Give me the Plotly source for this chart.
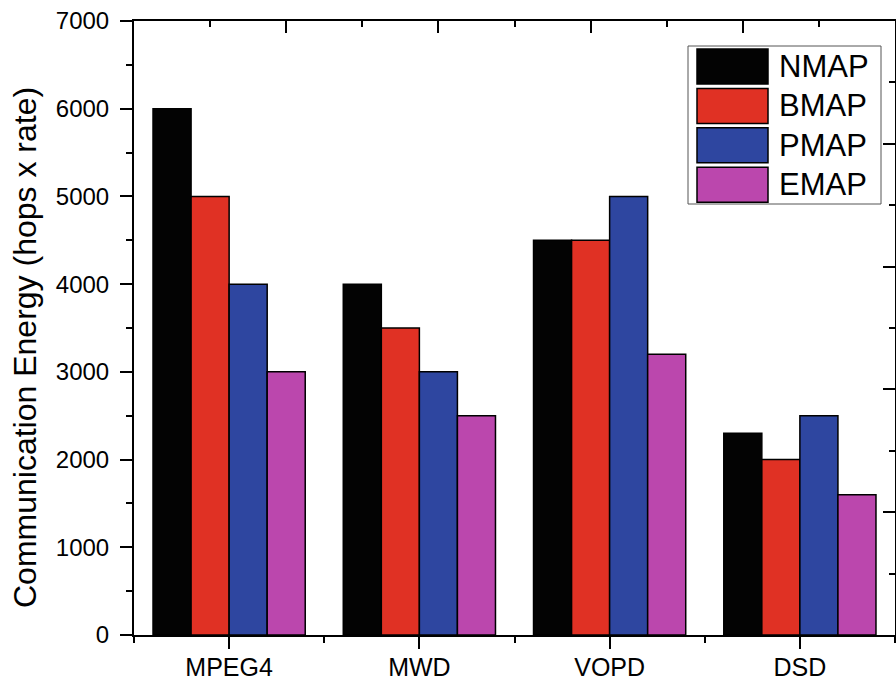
import plotly.graph_objects as go

# ---- data ----
categories = ["MPEG4", "MWD", "VOPD", "DSD"]
series_names = ["NMAP", "BMAP", "PMAP", "EMAP"]
nmap = [6000, 4000, 4500, 2300]
bmap = [5000, 3500, 4500, 2000]
pmap = [4000, 3000, 5000, 2500]
emap = [3000, 2500, 3200, 1600]
series_values = [nmap, bmap, pmap, emap]
colors = ["#030303", "#E03124", "#2E46A0", "#BB47AD"]
y_title = "Communication Energy (hops x rate)"

# ---- layout constants (pixels) ----
W, H = 896, 678
L, R, T, B = 134, 1, 21, 43
PW, PH = W - L - R, H - T - B
FONT = "Arial, 'Liberation Sans', sans-serif"


def px_x(px):
    return (px - L) / PW


def px_y(py):
    return (H - B - py) / PH


fig = go.Figure()
x_idx = list(range(len(categories)))
for name, vals, col in zip(series_names, series_values, colors):
    fig.add_trace(go.Bar(
        x=x_idx, y=vals, name=name,
        marker=dict(color=col, line=dict(color="black", width=1.5)),
        showlegend=False,
    ))

# empty trace to host the mirrored top/right axes
fig.add_trace(go.Scatter(x=[None], y=[None], xaxis="x2", yaxis="y2",
                         showlegend=False, hoverinfo="skip"))

axis_common = dict(showline=True, linewidth=2, linecolor="black",
                   showgrid=False, zeroline=False, tickcolor="black",
                   tickwidth=2, automargin=False)

fig.update_layout(
    width=W, height=H,
    margin=dict(l=L, r=R, t=T, b=B, pad=0, autoexpand=False),
    plot_bgcolor="white", paper_bgcolor="white",
    barmode="group", bargap=0.2, bargroupgap=0,
    font=dict(family=FONT, color="black"),
    showlegend=False,
    xaxis=dict(
        range=[-0.5, len(categories) - 0.5],
        tickmode="array", tickvals=x_idx, ticktext=categories,
        ticks="outside", ticklen=12, tickfont=dict(size=25),
        ticklabelstandoff=-3,
        minor=dict(tickmode="array",
                   tickvals=[i - 0.5 for i in range(len(categories) + 1)],
                   ticks="outside", ticklen=6, tickwidth=2,
                   tickcolor="black", showgrid=False),
        **axis_common,
    ),
    yaxis=dict(
        range=[0, 7000], tickmode="linear", tick0=0, dtick=1000,
        ticks="outside", ticklen=12, tickfont=dict(size=24),
        ticklabelstandoff=6,
        minor=dict(dtick=500, ticks="outside", ticklen=6, tickwidth=2,
                   tickcolor="black", showgrid=False),
        **axis_common,
    ),
    xaxis2=dict(
        overlaying="x", side="top", anchor="y2", range=[0, 5],
        tickmode="linear", tick0=0, dtick=1, ticks="inside", ticklen=12,
        showticklabels=False,
        minor=dict(dtick=0.5, ticks="inside", ticklen=6, tickwidth=2,
                   tickcolor="black", showgrid=False),
        **axis_common,
    ),
    yaxis2=dict(
        overlaying="y", side="right", anchor="x2", range=[0, 5],
        tickmode="linear", tick0=0, dtick=1, ticks="inside", ticklen=12,
        showticklabels=False,
        minor=dict(dtick=0.5, ticks="inside", ticklen=6, tickwidth=2,
                   tickcolor="black", showgrid=False),
        **axis_common,
    ),
)

# ---- legend (drawn to match the large swatches of the original) ----
box_x0, box_x1, box_y0, box_y1 = 688, 881, 46, 204
sw_x0, sw_x1, sw_top, sw_h, row_pitch = 697, 768, 49, 35, 39.4
txt_x = 777

shapes = [dict(type="rect", xref="paper", yref="paper",
               x0=px_x(box_x0), x1=px_x(box_x1),
               y0=px_y(box_y1), y1=px_y(box_y0),
               line=dict(color="#555555", width=1), fillcolor="white",
               layer="above")]
annotations = [dict(text=y_title, xref="paper", yref="paper",
                    x=px_x(25), y=px_y(348), xanchor="center",
                    yanchor="middle", textangle=-90, showarrow=False,
                    font=dict(size=32))]
for i, (name, col) in enumerate(zip(series_names, colors)):
    top = sw_top + i * row_pitch
    shapes.append(dict(type="rect", xref="paper", yref="paper",
                       x0=px_x(sw_x0), x1=px_x(sw_x1),
                       y0=px_y(top + sw_h), y1=px_y(top),
                       fillcolor=col, line=dict(color="black", width=1.5),
                       layer="above"))
    annotations.append(dict(text=name, xref="paper", yref="paper",
                            x=px_x(txt_x), y=px_y(top + sw_h / 2),
                            xanchor="left", yanchor="middle",
                            showarrow=False, font=dict(size=31)))
fig.update_layout(shapes=shapes, annotations=annotations)

fig.write_html(
    "out.html",
    config={"displayModeBar": False},
    post_script="document.body.style.margin='0';document.body.style.padding='0';",
)
